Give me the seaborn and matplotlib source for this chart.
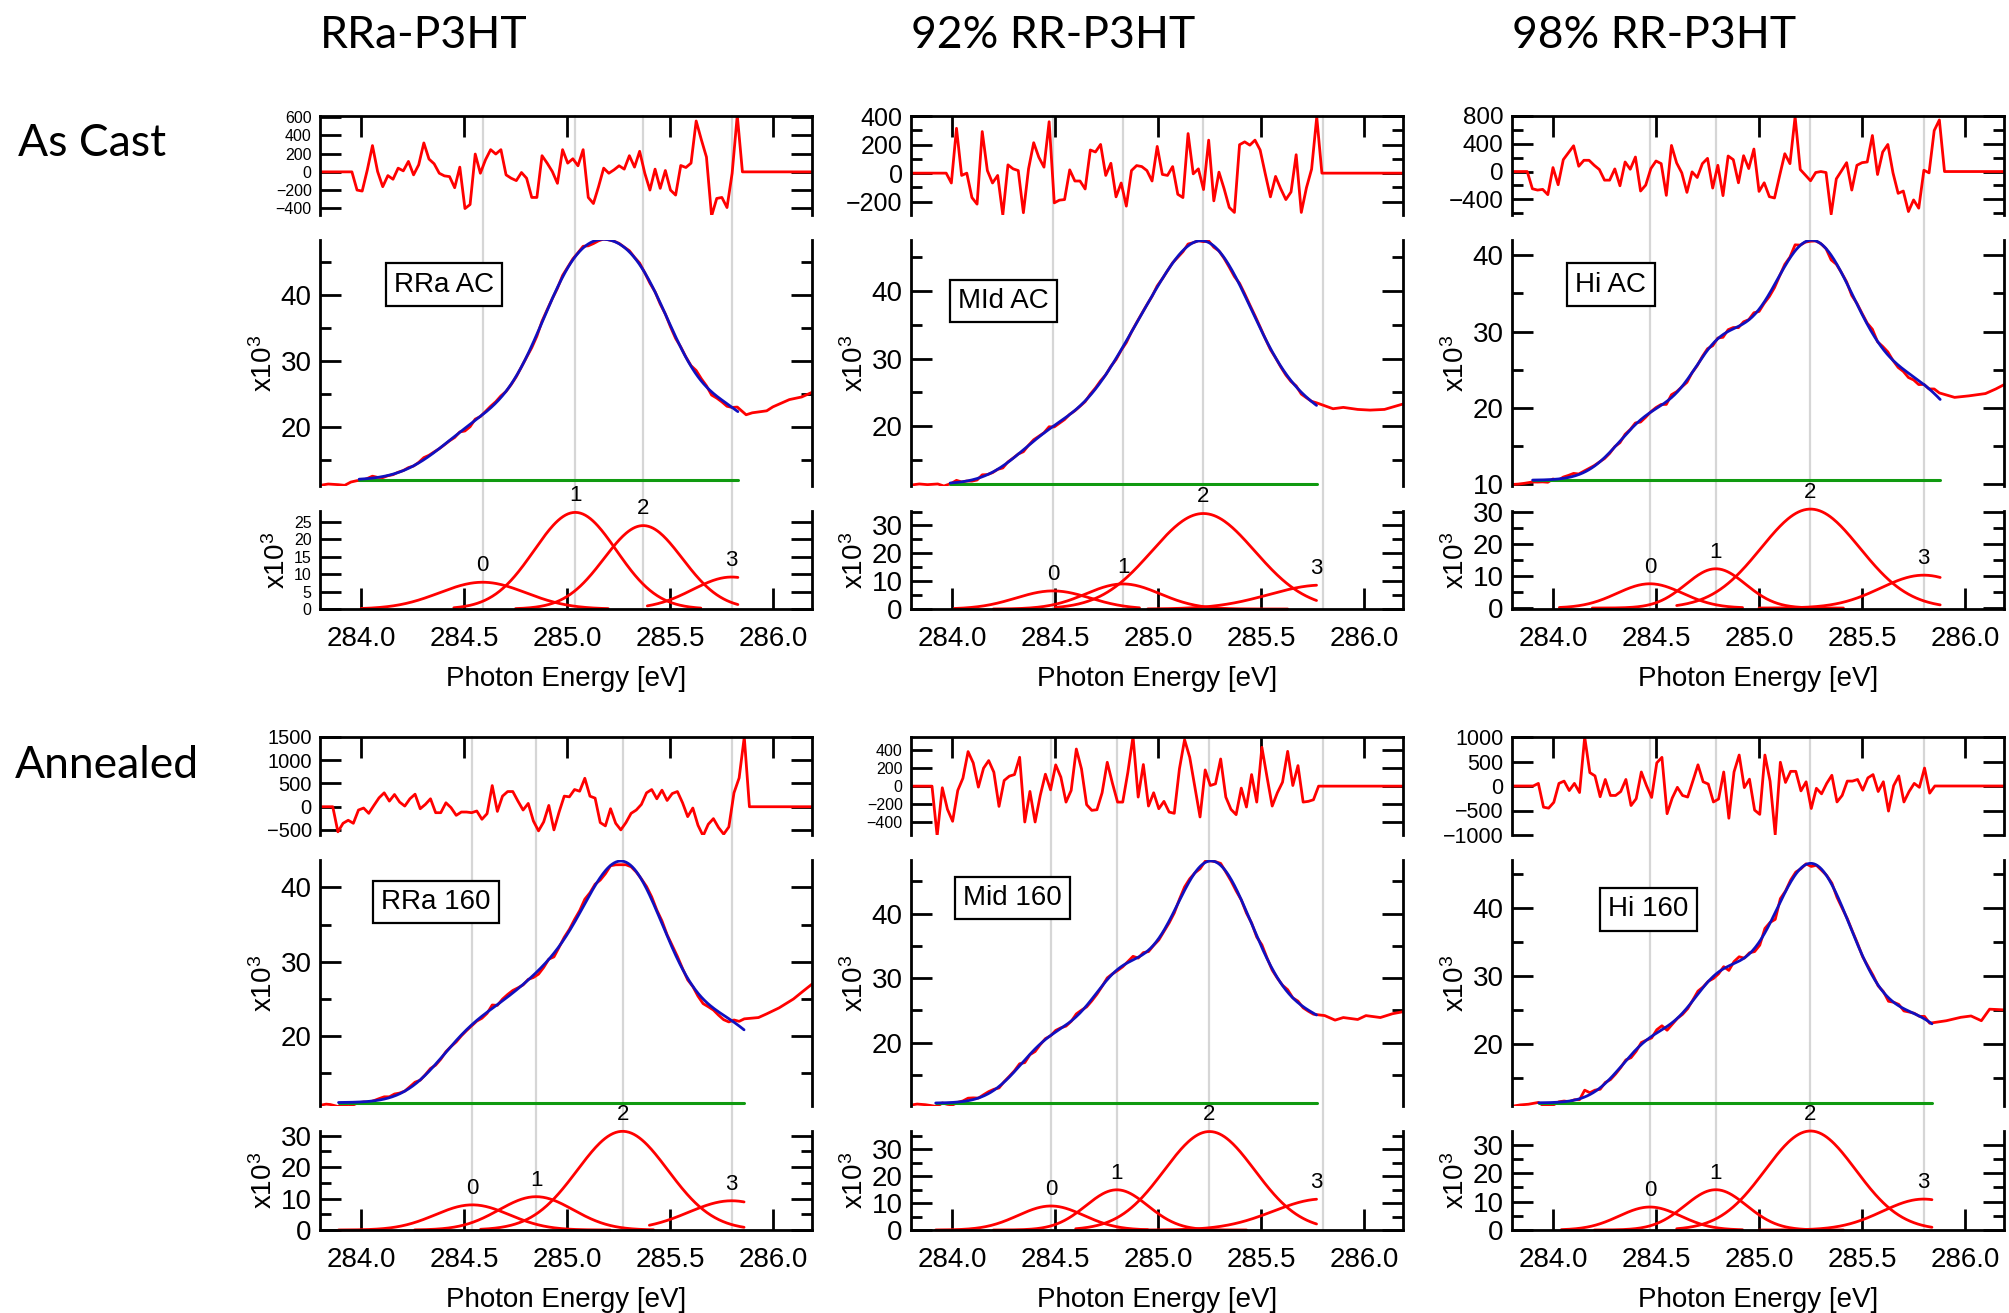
import numpy as np
import pandas as pd
import seaborn as sns
import matplotlib.pyplot as plt
from matplotlib.ticker import MultipleLocator, FormatStrFormatter
from matplotlib.transforms import blended_transform_factory
from matplotlib.lines import Line2D

# ---------------- values ----------------
col_titles = ["RRa-P3HT", "92% RR-P3HT", "98% RR-P3HT"]
row_titles = ["As Cast", "Annealed"]
panel_names = ["RRa AC", "MId AC", "Hi AC", "RRa 160", "Mid 160", "Hi 160"]
peak_tags = ["0", "1", "2", "3"]

# residuals (counts), evenly spaced between start and end energy
rra_ac_resid = [0, -200, -211, 22, 289, 4, -163, -41, -81, 41, 11, 115, -33, 78, 318, 141, 89, -15, -44, -52,
                -174, 52, -403, -359, 196, -15, 133, 244, 196, 244, -33, -70, -96, -7, -70, -281, -281, 178, 96, 4,
                -126, 244, 96, 144, 67, 244, -281, -348, -163, 41, -15, 22, 67, 30, 178, 52, 226, -15, -200, 30,
                -181, 15, -200, -255, 70, 48, 96, 559, 355, 163, -485, -292, -281, -392, -15, 622, 0]
mid_ac_resid = [0, -69, 314, -16, 0, -171, -217, 291, 18, -69, -16, -293, 58, 30, 18, -277, 30, 213, 111, 42,
                360, -208, -189, -185, 23, -55, -55, -111, 162, 148, 201, -16, 69, -166, -69, -231, 18, 53, 46, 18,
                -55, 187, -9, -16, 46, -148, -171, 277, -5, 30, -115, 231, -194, 7, -109, -240, -275, 199, 219, 196,
                231, 162, -5, -166, -23, -109, -185, -132, 129, -275, -102, 28, 393, 0]
hi_ac_resid = [0, -248, -267, -257, -333, 57, -190, 171, 271, 371, 76, 162, 162, 90, 29, -124, -124, 38, -205, 138,
               33, 209, -281, -195, 43, 152, 114, -343, 376, 124, -19, -300, -5, -86, 114, 190, -238, 90, -347, 224,
               171, -162, 228, 43, 324, -286, -162, -362, -381, -57, 257, 114, 790, 29, -52, -133, -14, 0, -14, -614,
               -105, 10, 128, -267, 90, 128, 138, 519, -43, 281, 390, -19, -314, -281, -576, -409, -528, 19, -19, 590,
               743, 0]
rra_160_resid = [0, -540, -356, -291, -356, -71, -28, -142, 28, 192, 299, 121, 263, 100, 14, 171, 270, -43, 50, 171,
                 -128, -128, 85, -21, -185, -114, -114, -128, -92, -270, -149, 455, -100, 228, 327, 327, 121, -71, 71, -306,
                 -519, -327, 28, -498, -114, 228, 213, 370, 334, 612, 228, 185, -341, -412, -43, -356, -498, -341, -142, -71,
                 50, 299, 370, 171, 356, 135, 284, 327, 85, -213, -28, -398, -626, -377, -256, -448, -590, -434, 299, 619,
                 1500, 0]
mid_160_resid = [0, -555, -18, -259, -392, -48, 89, 385, 259, -11, 200, 285, 155, -226, 63, 111, 129, 322, -400, -59,
                 -400, -104, 133, -41, 237, 100, -178, -48, 414, 192, -207, -270, -263, -74, 266, 33, -178, -178, 155, 555,
                 -122, 241, -222, -74, -252, -170, -289, -303, 192, 518, 322, -11, -344, 181, 7, 26, 303, -122, -259, -318,
                 -22, -233, 129, -178, 433, 100, -222, -74, 44, 388, 7, 229, -178, -170, -152, 0]
hi_160_resid = [0, 53, -432, -452, -333, 53, 100, -93, 53, -133, 1000, 273, 206, -219, 133, -193, -193, -113, 133, -399,
                -259, 286, 7, -233, 472, 585, -565, -246, -27, -193, -226, 100, 432, 86, 40, -326, -266, 286, -658, 286,
                632, -33, 140, -492, -579, 632, 100, -991, 485, 73, 299, 299, -100, 86, -459, -47, -160, 53, 219, -326,
                -193, 100, 100, 133, -86, 166, 233, -113, 86, -512, 7, 206, -326, -113, 53, -27, 366, -146, 0]
resid_start = [283.955, 283.971, 283.874, 283.862, 283.902, 283.903]
resid_end = [285.852, 285.796, 285.901, 285.886, 285.780, 285.854]

# fitted peaks (x10^3): centre, height, width, drawn range
rra_ac_center = [284.59, 285.04, 285.37, 285.80]
rra_ac_height = [7.7, 27.8, 24.0, 9.2]
rra_ac_width = [0.21, 0.20, 0.19, 0.19]
rra_ac_lo = [284.00, 284.45, 284.75, 285.39]
rra_ac_hi = [285.20, 285.65, 285.83, 285.83]

mid_ac_center = [284.49, 284.83, 285.22, 285.80]
mid_ac_height = [6.5, 9.0, 34.3, 8.6]
mid_ac_width = [0.18, 0.18, 0.25, 0.26]
mid_ac_lo = [284.01, 284.20, 284.50, 284.95]
mid_ac_hi = [284.91, 285.63, 285.77, 285.77]

hi_ac_center = [284.47, 284.79, 285.25, 285.80]
hi_ac_height = [7.6, 12.3, 31.0, 10.3]
hi_ac_width = [0.16, 0.145, 0.24, 0.21]
hi_ac_lo = [284.03, 284.19, 284.60, 285.00]
hi_ac_hi = [284.92, 285.41, 285.88, 285.88]

rra_160_center = [284.54, 284.85, 285.27, 285.80]
rra_160_height = [8.0, 10.6, 31.4, 9.3]
rra_160_width = [0.18, 0.18, 0.22, 0.21]
rra_160_lo = [283.89, 284.26, 284.58, 285.40]
rra_160_hi = [285.21, 285.42, 285.86, 285.86]

mid_160_center = [284.48, 284.80, 285.25, 285.80]
mid_160_height = [8.9, 14.9, 36.5, 11.5]
mid_160_width = [0.16, 0.15, 0.22, 0.24]
mid_160_lo = [283.92, 284.20, 284.60, 284.80]
mid_160_hi = [284.95, 285.43, 285.77, 285.77]

hi_160_center = [284.47, 284.79, 285.25, 285.80]
hi_160_height = [8.1, 14.2, 34.9, 10.9]
hi_160_width = [0.15, 0.15, 0.22, 0.20]
hi_160_lo = [284.04, 284.20, 284.60, 285.00]
hi_160_hi = [284.92, 285.41, 285.84, 285.84]

# constant background (green) and its energy span
baseline = [12.0, 11.5, 10.56, 11.06, 10.65, 11.3]
fit_start = [283.99, 283.99, 283.90, 283.89, 283.92, 283.93]
fit_end = [285.83, 285.77, 285.88, 285.86, 285.77, 285.84]

# raw spectrum outside the fitted window (x10^3)
rra_ac_pre_x = [283.80, 283.84, 283.89, 283.92, 283.95]
rra_ac_pre_y = [11.2, 11.4, 11.3, 11.2, 11.7]
rra_ac_post_x = [285.87, 285.90, 285.97, 286.00, 286.08, 286.14, 286.19]
rra_ac_post_y = [21.9, 22.2, 22.5, 23.1, 24.2, 24.6, 25.3]
mid_ac_pre_x = [283.79, 283.84, 283.88, 283.93, 283.96]
mid_ac_pre_y = [11.3, 11.5, 11.4, 11.5, 11.2]
mid_ac_post_x = [285.85, 285.90, 285.97, 286.03, 286.10, 286.19]
mid_ac_post_y = [22.6, 22.8, 22.5, 22.4, 22.5, 23.3]
hi_ac_pre_x = [283.80, 283.83, 283.86]
hi_ac_pre_y = [10.0, 10.05, 10.15]
hi_ac_post_x = [285.95, 286.02, 286.10, 286.15, 286.20]
hi_ac_post_y = [21.4, 21.6, 21.9, 22.5, 23.2]
rra_160_pre_x = [283.80, 283.83, 283.85]
rra_160_pre_y = [10.7, 10.85, 10.8]
rra_160_post_x = [285.93, 285.97, 286.03, 286.10, 286.14, 286.19]
rra_160_post_y = [22.5, 23.0, 23.8, 25.0, 25.9, 27.0]
mid_160_pre_x = [283.79, 283.83, 283.87]
mid_160_pre_y = [10.3, 10.5, 10.4]
mid_160_post_x = [285.81, 285.86, 285.90, 285.97, 286.01, 286.08, 286.14, 286.19]
mid_160_post_y = [24.2, 23.5, 23.9, 23.6, 24.2, 23.9, 24.5, 24.8]
hi_160_pre_x = [283.80, 283.84, 283.88]
hi_160_pre_y = [10.8, 11.0, 11.1]
hi_160_post_x = [285.91, 285.98, 286.03, 286.08, 286.12, 286.19]
hi_160_post_y = [23.4, 23.9, 24.1, 23.4, 25.1, 25.0]

# ---------------- layout ----------------
W, H = 2009, 1313
xlim = (283.80, 286.19)
col_left = [320, 911, 1512]
ax_w = 492
res_rows = [(116, 215), (737, 835)]
main_rows = [(240, 486), (860, 1106)]
comp_rows = [(511, 609), (1131, 1230)]

res_ylim = [(-474, 614), (-293, 400), (-626, 800), (-608, 1500), (-545, 548), (-1000, 1000)]
res_major = [200, 200, 400, 500, 200, 500]
res_minor = [None, 100, 200, None, None, None]
res_fs = [11.5, 18, 17.5, 14.5, 11.5, 15.5]
main_ylim = [(11.1, 48.4), (11.2, 47.5), (9.8, 42.0), (10.6, 43.7), (10.2, 48.3), (10.84, 47.07)]
comp_ylim = [(0, 28.2), (0, 35.2), (-0.3, 30.4), (0, 31.5), (0, 36.7), (0, 34.9)]
comp_major = [5, 10, 10, 10, 10, 10]
comp_minor = [None, 5, 5, 5, 5, 5]
comp_fs = [11.5, 20, 20, 20, 20, 20]
box_pos = [(0.252, 0.819), (0.188, 0.752), (0.201, 0.819), (0.236, 0.829), (0.206, 0.845), (0.277, 0.80)]

RED, BLUE, GREEN, GRAY = "#ff0000", "#1010c0", "#109a10", "#d6d6d6"
LW = 2.0

sns.set_theme(style="ticks")
plt.rcParams["font.family"] = ["Liberation Sans", "DejaVu Sans"]
plt.rcParams["mathtext.fontset"] = "custom"
plt.rcParams["mathtext.rm"] = "Liberation Sans"
plt.rcParams["mathtext.it"] = "Liberation Sans"
plt.rcParams["axes.linewidth"] = 2.0
plt.rcParams["font.size"] = 20
for key in ["axes.edgecolor", "axes.labelcolor", "xtick.color", "ytick.color", "text.color"]:
    plt.rcParams[key] = "black"

fig = plt.figure(figsize=(W / 100, H / 100), dpi=100)


def px_axes(left, top, bottom):
    ax = fig.add_axes([left / W, 1 - bottom / H, ax_w / W, (bottom - top) / H])
    ax.set_facecolor("none")
    ax.set_xlim(*xlim)
    return ax


def peaks(x, centers, heights, widths):
    y = np.zeros_like(x)
    for c, h, w in zip(centers, heights, widths):
        y = y + h * np.exp(-0.5 * ((x - c) / w) ** 2)
    return y


def style_y(ax, major, minor, fs=20):
    ax.yaxis.set_major_locator(MultipleLocator(major))
    if minor:
        ax.yaxis.set_minor_locator(MultipleLocator(minor))
    ax.tick_params(axis="y", which="both", direction="in", left=True, right=True,
                   labelleft=True, labelright=False, width=2.0, labelsize=fs, pad=6)
    ax.tick_params(axis="y", which="major", length=15)
    ax.tick_params(axis="y", which="minor", length=8)


panels = [
    dict(resid=rra_ac_resid, c=rra_ac_center, h=rra_ac_height, w=rra_ac_width, lo=rra_ac_lo, hi=rra_ac_hi,
         px=rra_ac_pre_x, py=rra_ac_pre_y, qx=rra_ac_post_x, qy=rra_ac_post_y),
    dict(resid=mid_ac_resid, c=mid_ac_center, h=mid_ac_height, w=mid_ac_width, lo=mid_ac_lo, hi=mid_ac_hi,
         px=mid_ac_pre_x, py=mid_ac_pre_y, qx=mid_ac_post_x, qy=mid_ac_post_y),
    dict(resid=hi_ac_resid, c=hi_ac_center, h=hi_ac_height, w=hi_ac_width, lo=hi_ac_lo, hi=hi_ac_hi,
         px=hi_ac_pre_x, py=hi_ac_pre_y, qx=hi_ac_post_x, qy=hi_ac_post_y),
    dict(resid=rra_160_resid, c=rra_160_center, h=rra_160_height, w=rra_160_width, lo=rra_160_lo, hi=rra_160_hi,
         px=rra_160_pre_x, py=rra_160_pre_y, qx=rra_160_post_x, qy=rra_160_post_y),
    dict(resid=mid_160_resid, c=mid_160_center, h=mid_160_height, w=mid_160_width, lo=mid_160_lo, hi=mid_160_hi,
         px=mid_160_pre_x, py=mid_160_pre_y, qx=mid_160_post_x, qy=mid_160_post_y),
    dict(resid=hi_160_resid, c=hi_160_center, h=hi_160_height, w=hi_160_width, lo=hi_160_lo, hi=hi_160_hi,
         px=hi_160_pre_x, py=hi_160_pre_y, qx=hi_160_post_x, qy=hi_160_post_y),
]

for i, p in enumerate(panels):
    r, col = divmod(i, 3)
    left = col_left[col]

    # ---- residual strip ----
    ax_r = px_axes(left, *res_rows[r])
    rx = np.linspace(resid_start[i], resid_end[i], len(p["resid"]))
    res_df = pd.DataFrame({"E": np.r_[xlim[0], rx, xlim[1]], "res": np.r_[0, p["resid"], 0]})
    sns.lineplot(data=res_df, x="E", y="res", ax=ax_r, color=RED, linewidth=LW,
                 estimator=None, sort=False)
    ax_r.set_ylim(*res_ylim[i])
    ax_r.spines["bottom"].set_visible(False)
    ax_r.xaxis.set_major_locator(MultipleLocator(0.5))
    ax_r.tick_params(axis="x", which="both", direction="in", top=True, bottom=False,
                     labeltop=False, labelbottom=False, length=15, width=2.0)
    style_y(ax_r, res_major[i], res_minor[i], res_fs[i])
    ax_r.set_xlabel("")
    ax_r.set_ylabel("")

    # ---- spectrum + fit ----
    ax_m = px_axes(left, *main_rows[r])
    fx = np.linspace(fit_start[i], fit_end[i], 400)
    fit = baseline[i] + peaks(fx, p["c"], p["h"], p["w"])
    # measured spectrum inside the window = fit + residual (end points of the residual lie outside)
    rin = rx[1:-1]
    data_in = baseline[i] + peaks(rin, p["c"], p["h"], p["w"]) + np.asarray(p["resid"][1:-1]) / 1000.0
    dx = np.r_[p["px"], rin, p["qx"]]
    dy = np.r_[p["py"], data_in, p["qy"]]
    order = np.argsort(dx)
    data_df = pd.DataFrame({"E": dx[order], "I": dy[order]})
    sns.lineplot(data=data_df, x="E", y="I", ax=ax_m, color=RED, linewidth=LW, estimator=None, sort=False)
    sns.lineplot(x=[fit_start[i], fit_end[i]], y=[baseline[i], baseline[i]], ax=ax_m,
                 color=GREEN, linewidth=2.2, estimator=None)
    sns.lineplot(x=fx, y=fit, ax=ax_m, color=BLUE, linewidth=LW, estimator=None, sort=False)
    ax_m.set_ylim(*main_ylim[i])
    ax_m.spines["top"].set_visible(False)
    ax_m.spines["bottom"].set_visible(False)
    ax_m.tick_params(axis="x", which="both", bottom=False, top=False, labelbottom=False)
    style_y(ax_m, 10, 5)
    ax_m.set_xlabel("")
    ax_m.set_ylabel(r"x10$^{3}$", fontsize=20, labelpad=2)
    bx, by = box_pos[i]
    ax_m.text(bx, by, panel_names[i], transform=ax_m.transAxes, ha="center", va="center", fontsize=20,
              bbox=dict(boxstyle="square,pad=0.3", fc="white", ec="black", lw=1.6))

    # ---- individual peaks ----
    ax_c = px_axes(left, *comp_rows[r])
    for k in range(len(p["c"])):
        cx = np.linspace(p["lo"][k], p["hi"][k], 200)
        cy = peaks(cx, [p["c"][k]], [p["h"][k]], [p["w"][k]])
        sns.lineplot(x=cx, y=cy, ax=ax_c, color=RED, linewidth=LW, estimator=None, sort=False)
        tag_x = min(p["c"][k], p["hi"][k])
        tag_y = peaks(np.array([tag_x]), [p["c"][k]], [p["h"][k]], [p["w"][k]])[0]
        ax_c.annotate(peak_tags[k], (tag_x, tag_y), xytext=(0, 12), textcoords="offset points",
                      ha="center", va="center", fontsize=16, annotation_clip=False)
    for ln in ax_c.lines:
        ln.set_clip_on(False)
    ax_c.set_ylim(*comp_ylim[i])
    ax_c.spines["top"].set_visible(False)
    ax_c.xaxis.set_major_locator(MultipleLocator(0.5))
    ax_c.xaxis.set_major_formatter(FormatStrFormatter("%.1f"))
    ax_c.tick_params(axis="x", which="both", direction="in", bottom=True, top=False,
                     labelbottom=True, length=15, width=2.0, labelsize=20, pad=12)
    style_y(ax_c, comp_major[i], comp_minor[i], comp_fs[i])
    ax_c.set_xlabel("Photon Energy [eV]", fontsize=20, labelpad=10)
    ax_c.set_ylabel(r"x10$^{3}$", fontsize=20, labelpad=2)

    # ---- grey peak markers through all three strips ----
    trans = blended_transform_factory(ax_c.transData, fig.transFigure)
    for c in p["c"]:
        fig.add_artist(Line2D([c, c], [1 - res_rows[r][0] / H, 1 - comp_rows[r][1] / H],
                              transform=trans, color=GRAY, linewidth=1.6, zorder=-1))

title_font = ["Lato", "DejaVu Sans"]
for col, t in enumerate(col_titles):
    fig.text(col_left[col] / W, 1 - 35 / H, t, ha="left", va="center", fontsize=32, family=title_font)
fig.text(18 / W, 1 - 143 / H, row_titles[0], ha="left", va="center", fontsize=32, family=title_font)
fig.text(15 / W, 1 - 765 / H, row_titles[1], ha="left", va="center", fontsize=32, family=title_font)

fig.savefig("out.png", dpi=100)
